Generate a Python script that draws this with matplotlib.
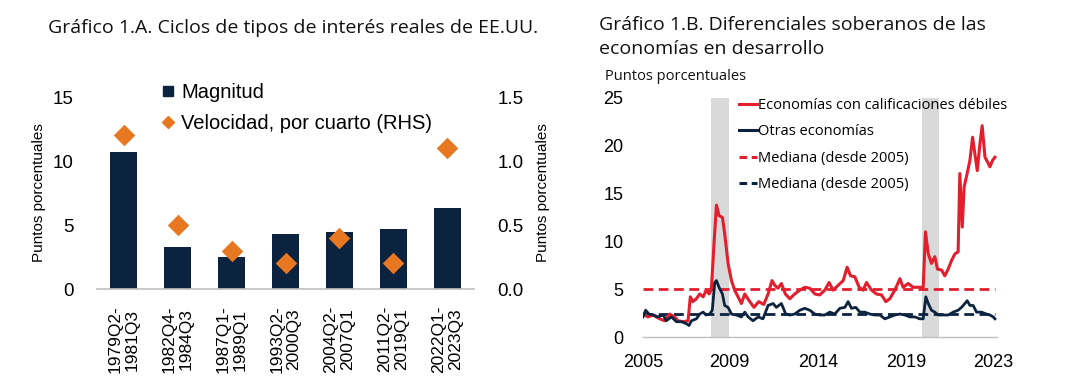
import matplotlib
matplotlib.use("Agg")
import matplotlib.pyplot as plt
from matplotlib.lines import Line2D

# ---- chart 1.A data ----
periods = ["1979Q2-\n1981Q3", "1982Q4-\n1984Q3", "1987Q1-\n1989Q1", "1993Q2-\n2000Q3",
           "2004Q2-\n2007Q1", "2011Q2-\n2019Q1", "2022Q1-\n2023Q3"]
magnitud = [10.7, 3.3, 2.5, 4.3, 4.45, 4.7, 6.3]
velocidad = [1.2, 0.5, 0.3, 0.2, 0.4, 0.2, 1.1]

# ---- chart 1.B data (fractional years, percentage points) ----
weak_x = [2005.00, 2005.27, 2005.53, 2005.89, 2006.15, 2006.42, 2006.69, 2006.86, 2007.13, 2007.40,
          2007.52, 2007.66, 2007.84, 2008.02, 2008.20, 2008.37, 2008.52, 2008.64, 2008.77, 2008.91,
          2009.05, 2009.23, 2009.35, 2009.53, 2009.71, 2009.88, 2010.06, 2010.24, 2010.42, 2010.65,
          2010.91, 2011.16, 2011.43, 2011.66, 2011.87, 2012.02, 2012.19, 2012.37, 2012.58, 2012.82,
          2013.08, 2013.35, 2013.61, 2013.88, 2014.15, 2014.41, 2014.68, 2014.91, 2015.12, 2015.39,
          2015.66, 2015.87, 2016.05, 2016.28, 2016.51, 2016.72, 2016.90, 2017.17, 2017.43, 2017.70,
          2017.93, 2018.14, 2018.41, 2018.68, 2018.85, 2019.12, 2019.39, 2019.65, 2019.92, 2020.04,
          2020.19, 2020.36, 2020.54, 2020.68, 2020.90, 2021.07, 2021.25, 2021.43, 2021.61, 2021.78,
          2021.87, 2022.00, 2022.10, 2022.26, 2022.41, 2022.55, 2022.67, 2022.80, 2022.94, 2023.06,
          2023.21, 2023.35, 2023.47, 2023.62, 2023.74]
weak_y = [2.4, 2.1, 2.3, 1.9, 1.7, 2.4, 2.1, 1.7, 1.6, 1.7,
          4.2, 3.7, 4.0, 4.5, 4.2, 4.9, 4.5, 5.0, 9.4, 13.8,
          12.7, 12.5, 10.8, 7.7, 5.9, 4.9, 4.2, 3.5, 4.5, 3.8,
          3.1, 3.7, 3.4, 4.5, 5.9, 5.4, 5.1, 5.6, 4.5, 4.0,
          4.5, 4.9, 5.2, 5.1, 4.5, 4.4, 4.9, 5.7, 4.9, 5.4,
          5.9, 7.3, 6.4, 6.3, 5.2, 4.9, 5.7, 4.9, 4.5, 4.4,
          3.7, 4.0, 4.9, 6.1, 5.2, 5.6, 5.2, 5.2, 5.2, 11.0,
          8.7, 7.7, 8.4, 7.1, 7.0, 6.4, 7.1, 8.0, 8.7, 8.9,
          17.1, 11.5, 15.7, 17.1, 18.5, 20.9, 19.2, 17.4, 20.2, 22.1,
          18.8, 18.3, 17.8, 18.5, 18.8]

other_x = [2005.00, 2005.14, 2005.32, 2005.53, 2005.80, 2006.07, 2006.24, 2006.51, 2006.78, 2007.04,
           2007.31, 2007.45, 2007.58, 2007.84, 2008.02, 2008.20, 2008.37, 2008.55, 2008.69, 2008.82,
           2008.91, 2009.05, 2009.23, 2009.35, 2009.53, 2009.71, 2009.97, 2010.24, 2010.42, 2010.60,
           2010.86, 2011.13, 2011.39, 2011.66, 2011.93, 2012.10, 2012.37, 2012.60, 2012.82, 2013.08,
           2013.35, 2013.61, 2013.88, 2014.15, 2014.41, 2014.68, 2014.95, 2015.21, 2015.48, 2015.75,
           2015.92, 2016.10, 2016.33, 2016.55, 2016.81, 2017.08, 2017.34, 2017.61, 2017.88, 2018.14,
           2018.41, 2018.68, 2018.94, 2019.21, 2019.48, 2019.74, 2019.92, 2020.06, 2020.19, 2020.36,
           2020.54, 2020.72, 2020.99, 2021.25, 2021.52, 2021.78, 2021.96, 2022.14, 2022.26, 2022.41,
           2022.58, 2022.76, 2023.03, 2023.29, 2023.47, 2023.65, 2023.74]
other_y = [2.1, 2.8, 2.4, 2.3, 2.1, 2.3, 1.7, 2.1, 1.6, 1.6,
           1.4, 1.2, 1.7, 1.9, 2.4, 2.6, 2.3, 2.4, 2.8, 5.7,
           5.9, 5.2, 4.5, 3.3, 3.1, 2.4, 2.3, 2.1, 2.6, 2.1,
           1.7, 2.1, 1.9, 3.3, 3.5, 3.1, 3.5, 2.4, 2.3, 2.4,
           2.8, 3.0, 2.8, 2.4, 2.3, 2.3, 2.6, 2.4, 3.0, 3.1,
           3.7, 3.0, 3.1, 2.6, 2.6, 2.4, 2.3, 2.3, 1.9, 2.1,
           2.3, 2.4, 2.3, 2.1, 2.1, 1.9, 1.9, 4.2, 3.5, 2.8,
           2.6, 2.3, 2.3, 2.3, 2.6, 2.8, 3.1, 3.5, 3.8, 3.3,
           3.3, 2.6, 2.6, 2.4, 2.3, 2.1, 1.9]

weak_median = 5.0
other_median = 2.4
stress_periods = [(2008.64, 2009.58), (2019.83, 2020.77)]
year_ticks = [2005.0, 2009.62, 2014.33, 2019.03, 2023.65]
year_labels = ["2005", "2009", "2014", "2019", "2023"]

NAVY = "#0c2340"
ORANGE = "#e87722"
RED = "#e31e2d"
GRID = "#bfbfbf"
TEXT = "#111111"
TITLE_FONT = "Open Sans"
ARIAL = "Liberation Sans"

fig = plt.figure(figsize=(10.8, 3.9), dpi=100)

# ================= chart 1.A =================
ax = fig.add_axes([97 / 1080, 1 - 289 / 390, 377 / 1080, 192 / 390])
pos = range(len(periods))
ax.bar(pos, magnitud, width=0.5, color=NAVY, zorder=2)
ax.set_xlim(-0.5, len(periods) - 0.5)
ax.set_ylim(0, 15)
ax.set_yticks([0, 5, 10, 15])
ax.set_xticks(list(pos))
ax.set_xticklabels(periods, rotation=90, fontsize=12.5, family=ARIAL, va="top",
                   linespacing=1.15)
ax.tick_params(axis="x", length=0, pad=12)
ax.tick_params(axis="y", length=0, pad=17, labelsize=13.5)
for lab in ax.get_yticklabels():
    lab.set_family(ARIAL)
for s in ["top", "right", "left"]:
    ax.spines[s].set_visible(False)
ax.spines["bottom"].set_color(GRID)
ax.spines["bottom"].set_linewidth(1.2)
ax.set_ylabel("Puntos porcentuales", fontsize=11, family=ARIAL, labelpad=5)

ax2 = ax.twinx()
ax2.scatter(list(pos), velocidad, marker="D", s=120, color=ORANGE, zorder=3, linewidths=0)
ax2.set_ylim(0, 1.5)
ax2.set_yticks([0, 0.5, 1.0, 1.5])
ax2.set_yticklabels(["0.0", "0.5", "1.0", "1.5"])
ax2.tick_params(axis="y", length=0, pad=17, labelsize=13.5)
for lab in ax2.get_yticklabels():
    lab.set_family(ARIAL)
for s in ["top", "right", "left", "bottom"]:
    ax2.spines[s].set_visible(False)
ax2.set_ylabel("Puntos porcentuales", fontsize=11, family=ARIAL, labelpad=9)

handles_a = [
    Line2D([], [], marker="s", linestyle="none", color=NAVY, markersize=7),
    Line2D([], [], marker="D", linestyle="none", color=ORANGE, markersize=6.5),
]
fig.legend(handles_a, ["Magnitud", "Velocidad, por cuarto (RHS)"], loc="upper left",
           bbox_to_anchor=(160 / 1080, 1 - 83 / 390), frameon=False,
           prop={"family": ARIAL, "size": 14.5}, handlelength=0.8, handletextpad=0.25,
           labelspacing=0.62, borderpad=0, borderaxespad=0)

fig.text(48 / 1080, 1 - 28 / 390, "Gráfico 1.A. Ciclos de tipos de interés reales de EE.UU.",
         family=TITLE_FONT, fontsize=14, va="center", ha="left", color=TEXT)

# ================= chart 1.B =================
bx = fig.add_axes([643 / 1080, 1 - 337 / 390, 354 / 1080, 239 / 390])
for start, end in stress_periods:
    bx.axvspan(start, end, color="#d9d9d9", lw=0, zorder=0)
bx.plot(weak_x, weak_y, color=RED, lw=2.2, zorder=3, solid_joinstyle="round")
bx.plot(other_x, other_y, color=NAVY, lw=2.0, zorder=3, solid_joinstyle="round")
bx.plot([weak_x[0], weak_x[-1]], [weak_median, weak_median], color=RED, lw=2.0,
        dashes=(3.5, 2), zorder=2)
bx.plot([other_x[0], other_x[-1]], [other_median, other_median], color=NAVY, lw=2.0,
        dashes=(3.5, 2), zorder=2)
bx.set_xlim(2005.0, 2023.85)
bx.set_ylim(0, 25)
bx.set_yticks([0, 5, 10, 15, 20, 25])
bx.set_xticks(year_ticks)
bx.set_xticklabels(year_labels)
bx.tick_params(axis="x", length=0, pad=12, labelsize=13)
bx.tick_params(axis="y", length=0, pad=14, labelsize=13)
for lab in bx.get_xticklabels() + bx.get_yticklabels():
    lab.set_family(ARIAL)
for s in ["top", "right", "left"]:
    bx.spines[s].set_visible(False)
bx.spines["bottom"].set_color(GRID)
bx.spines["bottom"].set_linewidth(1.0)

handles_b = [
    Line2D([], [], color=RED, lw=2.2),
    Line2D([], [], color=NAVY, lw=2.2),
    Line2D([], [], color=RED, lw=2.2, dashes=(2.5, 1.5)),
    Line2D([], [], color=NAVY, lw=2.2, dashes=(2.5, 1.5)),
]
labels_b = ["Economías con calificaciones débiles", "Otras economías",
            "Mediana (desde 2005)", "Mediana (desde 2005)"]
fig.legend(handles_b, labels_b, loc="upper left", bbox_to_anchor=(739 / 1080, 1 - 98 / 390),
           frameon=False, prop={"family": TITLE_FONT, "size": 10.5}, handlelength=1.2,
           handletextpad=0.1, labelspacing=0.78, borderpad=0, borderaxespad=0)

fig.text(599 / 1080, 1 - 25 / 390, "Gráfico 1.B. Diferenciales soberanos de las",
         family=TITLE_FONT, fontsize=14, va="center", ha="left", color=TEXT)
fig.text(599 / 1080, 1 - 49 / 390, "economías en desarrollo",
         family=TITLE_FONT, fontsize=14, va="center", ha="left", color=TEXT)
fig.text(605 / 1080, 1 - 77 / 390, "Puntos porcentuales",
         family=TITLE_FONT, fontsize=10.5, va="center", ha="left", color=TEXT)

fig.savefig("out.png", dpi=100)
